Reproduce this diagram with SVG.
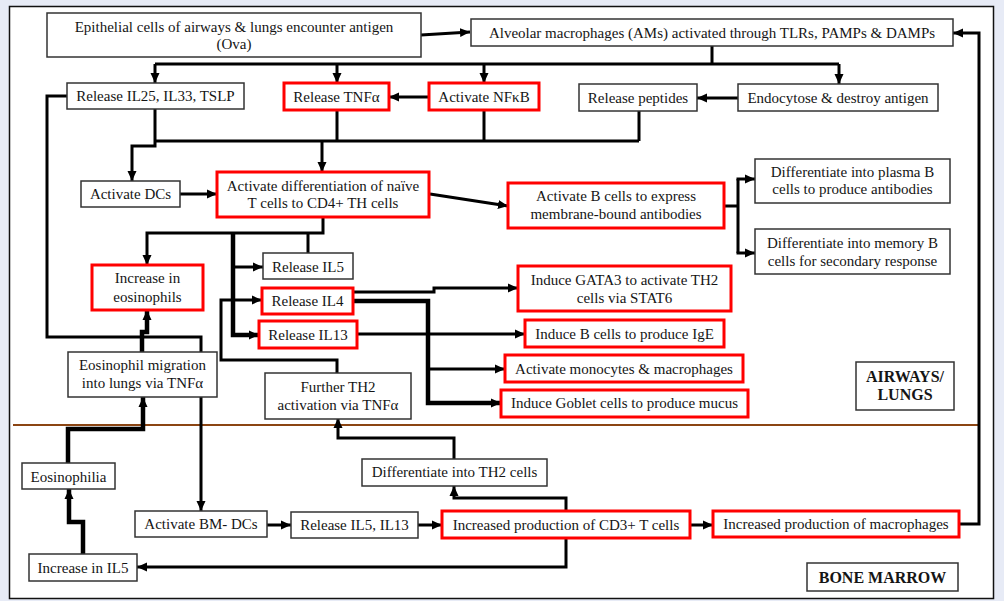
<svg xmlns="http://www.w3.org/2000/svg" width="1004" height="601" viewBox="0 0 1004 601">
<style>
.bg{fill:#e7ebf6}
.panel{fill:#fff;stroke:#111;stroke-width:1.5}
.n rect{fill:#fff;stroke:#333;stroke-width:1.5}
.r rect{fill:#fff;stroke:#ff0000;stroke-width:3}
text{font-family:"Liberation Serif","Times New Roman",serif;font-size:15px;fill:#151515;text-anchor:middle}
.b text{font-weight:bold;font-size:16px}
.c path{fill:none;stroke:#000;stroke-width:3}
.c path.a{marker-end:url(#ah)}
.c path.t{stroke-width:4.5}
</style>
<defs>
<marker id="ah" markerUnits="userSpaceOnUse" markerWidth="11" markerHeight="10" refX="10" refY="5" orient="auto">
<path d="M0,0.5 L10,5 L0,9.5 z" fill="#000"/>
</marker>
</defs>
<rect class="bg" x="0" y="0" width="1004" height="601"/>
<rect class="panel" x="9.5" y="6.5" width="984" height="592"/>
<path d="M13,425 H978" stroke="#8b4513" stroke-width="2.2" fill="none"/>

<g id="connectors" class="c">
<path class="a" d="M421,35 L470,32"/>
<path d="M712,46 V64 M155,64 H839"/>
<path class="a" d="M155,64 V83"/>
<path class="a" d="M337,64 V83"/>
<path class="a" d="M484,64 V83"/>
<path class="a" d="M839,64 V84"/>
<path class="a" d="M429,97 H389"/>
<path class="a" d="M738,98 H697"/>
<path class="a" d="M155,109 V146 H132 V181"/>
<path d="M155,141 H639 M337,110 V141 M484,110 V141 M639,111 V141"/>
<path class="a" d="M322,141 V172"/>
<path class="a" d="M180,194 H217"/>
<path class="a" d="M430,194 L508,206"/>
<path d="M724,206 H738 M738,179 V253"/>
<path class="a" d="M736.5,179 H755"/>
<path class="a" d="M736.5,253 H755"/>
<path class="a" d="M323,217 V233 H147 V265"/>
<path d="M308,233 V253"/>
<path class="a t" d="M233,233 V335 H259"/>
<path class="a" d="M233,267 H263"/>
<path class="a" d="M337,373 V360 H221 V300 H262"/>
<path class="a" d="M353,292 H434 V288 H518"/>
<path class="a t" d="M353,301 H428 V403 H501"/>
<path class="a" d="M428,369 H505"/>
<path class="a" d="M357,334 H525"/>
<path class="a" d="M67,96 H47 V337 H201 V511"/>
<path class="a t" d="M142,352 V332 H147 V310"/>
<path class="a t" d="M68,463 V429 H143 V397"/>
<path class="a t" d="M83,554 V522 H69 V489"/>
<path class="a" d="M267,525 H291"/>
<path class="a" d="M418,525 H442"/>
<path class="a" d="M690,525 H713"/>
<path class="a" d="M959,524 H979 V33 H953"/>
<path class="a" d="M566,511 V498 H454 V486"/>
<path class="a" d="M454,459 V438 H338 V418"/>
<path class="a" d="M566,538 V567 H137"/>
</g>

<g id="epithelial" class="n"><rect x="47" y="13" width="374" height="44"/><text x="234" y="32">Epithelial cells of airways &amp; lungs encounter antigen</text><text x="234" y="49">(Ova)</text></g>
<g id="alveolar" class="n"><rect x="471" y="19" width="482" height="27"/><text x="712" y="38">Alveolar macrophages (AMs) activated through TLRs, PAMPs &amp; DAMPs</text></g>
<g id="il25" class="n"><rect x="67" y="83" width="177" height="26"/><text x="155.5" y="101">Release IL25, IL33, TSLP</text></g>
<g id="tnfa" class="r"><rect x="284" y="83" width="105" height="27"/><text x="336.5" y="102">Release TNFα</text></g>
<g id="nfkb" class="r"><rect x="429" y="83" width="110" height="27"/><text x="484" y="102">Activate NFκB</text></g>
<g id="peptides" class="n"><rect x="579" y="84" width="118" height="27"/><text x="638" y="103">Release peptides</text></g>
<g id="endocytose" class="n"><rect x="738" y="84" width="200" height="27"/><text x="838" y="103">Endocytose &amp; destroy antigen</text></g>
<g id="dcs" class="n"><rect x="81" y="181" width="99" height="26"/><text x="130.5" y="199">Activate DCs</text></g>
<g id="diff" class="r"><rect x="217" y="172" width="212" height="45"/><text x="323" y="191">Activate differentiation of naïve</text><text x="323" y="208">T cells to CD4+ TH cells</text></g>
<g id="bcells" class="r"><rect x="508" y="183" width="216" height="45"/><text x="616" y="201">Activate B cells to express</text><text x="616" y="219">membrane-bound antibodies</text></g>
<g id="plasma" class="n"><rect x="755" y="159" width="195" height="44"/><text x="852.5" y="177">Differentiate into plasma B</text><text x="852.5" y="194">cells to produce antibodies</text></g>
<g id="memory" class="n"><rect x="755" y="229" width="195" height="45"/><text x="852.5" y="248">Differentiate into memory B</text><text x="852.5" y="266">cells for secondary response</text></g>
<g id="inceos" class="r"><rect x="92" y="265" width="111" height="45"/><text x="147.5" y="283">Increase in</text><text x="147.5" y="302">eosinophils</text></g>
<g id="il5" class="n"><rect x="263" y="253" width="90" height="26"/><text x="308" y="272">Release IL5</text></g>
<g id="il4" class="r"><rect x="262" y="288" width="91" height="26"/><text x="307.5" y="306">Release IL4</text></g>
<g id="il13" class="r"><rect x="259" y="321" width="98" height="27"/><text x="308" y="340">Release IL13</text></g>
<g id="gata3" class="r"><rect x="518" y="266" width="213" height="45"/><text x="624.5" y="285">Induce GATA3 to activate TH2</text><text x="624.5" y="303">cells via STAT6</text></g>
<g id="ige" class="r"><rect x="525" y="320" width="199" height="27"/><text x="624.5" y="339">Induce B cells to produce IgE</text></g>
<g id="mono" class="r"><rect x="505" y="355" width="238" height="27"/><text x="624" y="374">Activate monocytes &amp; macrophages</text></g>
<g id="goblet" class="r"><rect x="501" y="390" width="247" height="27"/><text x="624.5" y="408">Induce Goblet cells to produce mucus</text></g>
<g id="airways" class="n b"><rect x="856" y="362" width="98" height="48"/><text x="905" y="382">AIRWAYS/</text><text x="905" y="400">LUNGS</text></g>
<g id="migration" class="n"><rect x="68" y="352" width="149" height="45"/><text x="142.5" y="370">Eosinophil migration</text><text x="142.5" y="388">into lungs via TNFα</text></g>
<g id="furtherth2" class="n"><rect x="265" y="373" width="146" height="46"/><text x="338" y="392">Further TH2</text><text x="338" y="410">activation via TNFα</text></g>
<g id="th2" class="n"><rect x="362" y="459" width="185" height="27"/><text x="454.5" y="477">Differentiate into TH2 cells</text></g>
<g id="eosinophilia" class="n"><rect x="22" y="463" width="93" height="26"/><text x="68.5" y="482">Eosinophilia</text></g>
<g id="bmdcs" class="n"><rect x="135" y="511" width="132" height="26"/><text x="201" y="529">Activate BM- DCs</text></g>
<g id="il5il13" class="n"><rect x="291" y="512" width="127" height="26"/><text x="354.5" y="530">Release IL5, IL13</text></g>
<g id="cd3" class="r"><rect x="442" y="511" width="248" height="27"/><text x="566" y="530">Increased production of CD3+ T cells</text></g>
<g id="macro" class="r"><rect x="713" y="511" width="246" height="26"/><text x="836" y="529">Increased production of macrophages</text></g>
<g id="incil5" class="n"><rect x="29" y="554" width="108" height="27"/><text x="83" y="573">Increase in IL5</text></g>
<g id="bonemarrow" class="n b"><rect x="807" y="563" width="151" height="28"/><text x="882.5" y="583">BONE MARROW</text></g>
</svg>
